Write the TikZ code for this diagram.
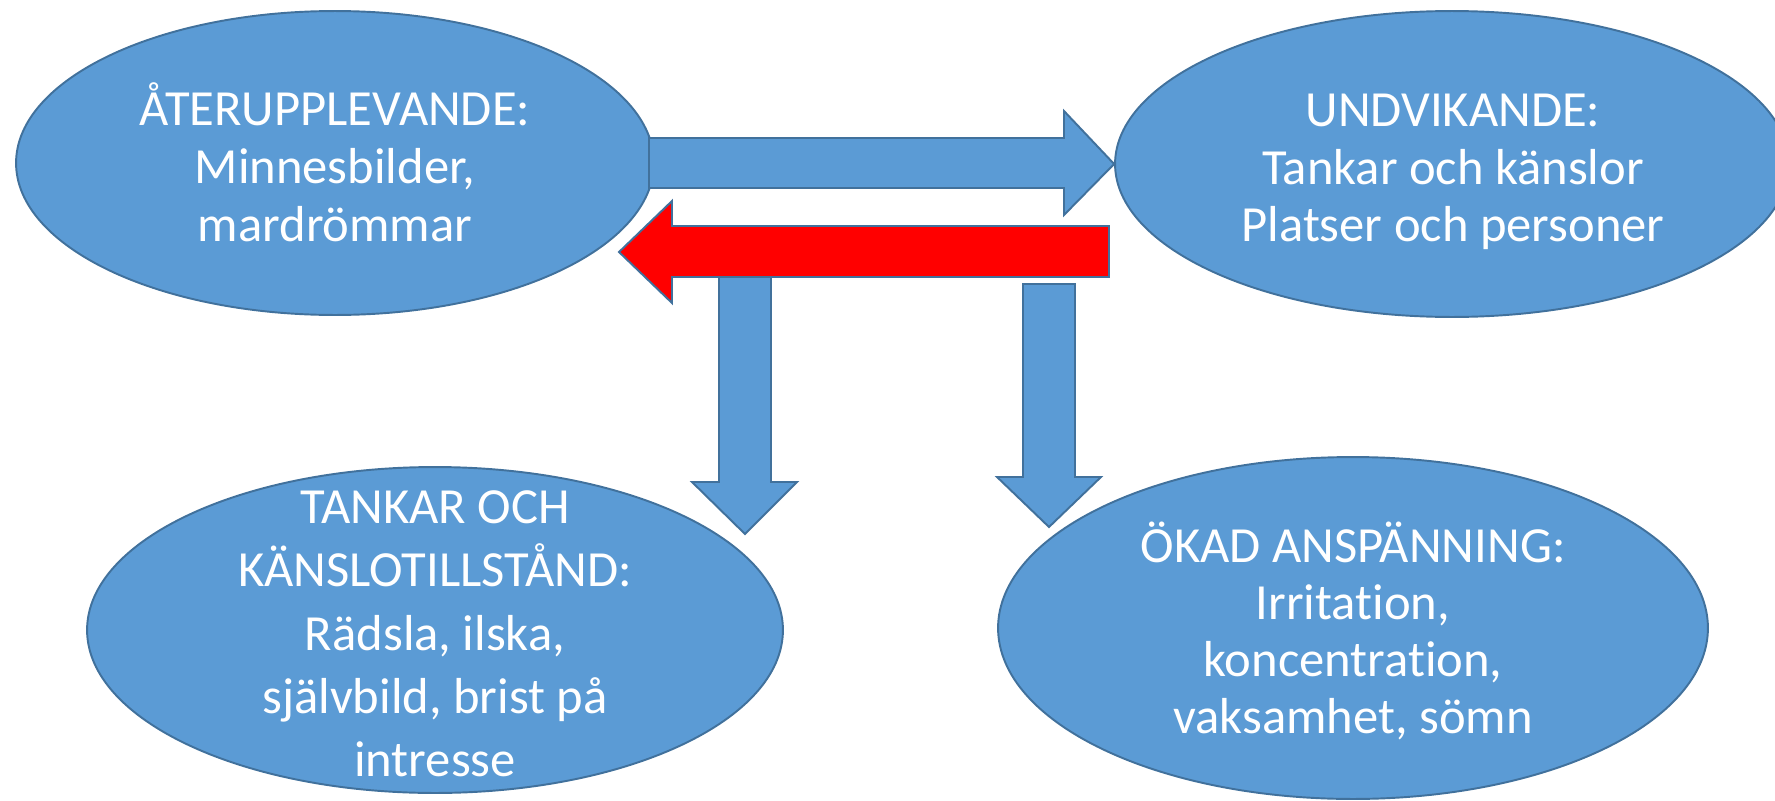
\documentclass[tikz,border=0pt]{standalone}
\usepackage{fontspec}
\setmainfont{Carlito}[Ligatures=NoCommon]
\usetikzlibrary{shapes.geometric}
\definecolor{bubblefill}{HTML}{5B9BD5}
\definecolor{bubbleline}{HTML}{41719C}
\definecolor{backred}{HTML}{FF0000}

\begin{document}
\begin{tikzpicture}[x=0.02cm,y=-0.02cm,
  bubble/.style={ellipse,draw=bubbleline,fill=bubblefill,line width=1.1pt,inner sep=0pt},
  bubbletext/.style={text=white,align=center,inner sep=0pt},
  blockarrow/.style={draw=bubbleline,line width=1.1pt,line join=miter,fill=bubblefill}]
  \useasboundingbox (0,0) rectangle (1775,801);
  % the four states
  \node[bubble,minimum width=12.76cm,minimum height=6.08cm] (relive) at (335,163) {};
  \node[bubble,minimum width=13.48cm,minimum height=6.12cm] (avoid) at (1452,164) {};
  \node[bubble,minimum width=13.92cm,minimum height=6.52cm] (mood) at (435,630) {};
  \node[bubble,minimum width=14.2cm,minimum height=6.84cm] (tension) at (1353,628) {};
  \node[bubbletext,font=\fontsize{28.8}{33}\selectfont] (relivetxt) at (335,162)
    {ÅTERUPPLEVANDE:\\Minnesbilder,\\mardrömmar};
  \node[bubbletext,font=\fontsize{28.8}{32.7}\selectfont] (avoidtxt) at (1453,172)
    {UNDVIKANDE:\\Tankar och känslor\\Platser och personer};
  \node[bubbletext,font=\fontsize{28.8}{36}\selectfont] (moodtxt) at (435,634)
    {TANKAR OCH\\KÄNSLOTILLSTÅND:\\Rädsla, ilska,\\självbild, brist på\\intresse};
  \node[bubbletext,font=\fontsize{28.8}{32.4}\selectfont] (tensiontxt) at (1353,631)
    {ÖKAD ANSPÄNNING:\\Irritation,\\koncentration,\\vaksamhet, sömn};
  % block arrows
  \draw[blockarrow] (719,277) -- (771,277) -- (771,482) -- (797,482) -- (745,534)
    -- (692,482) -- (719,482) -- cycle;
  \draw[blockarrow] (1023,284) -- (1075,284) -- (1075,477) -- (1101,477) -- (1049,527)
    -- (997,477) -- (1023,477) -- cycle;
  \draw[blockarrow] (649,138) -- (1064,138) -- (1064,111) -- (avoid.west)
    -- (1064,215) -- (1064,188) -- (649,188) -- cycle;
  \draw[blockarrow,fill=backred] (1109,226) -- (672,226) -- (672,201) -- (619,252)
    -- (672,303) -- (672,277) -- (1109,277) -- cycle;
\end{tikzpicture}
\end{document}
